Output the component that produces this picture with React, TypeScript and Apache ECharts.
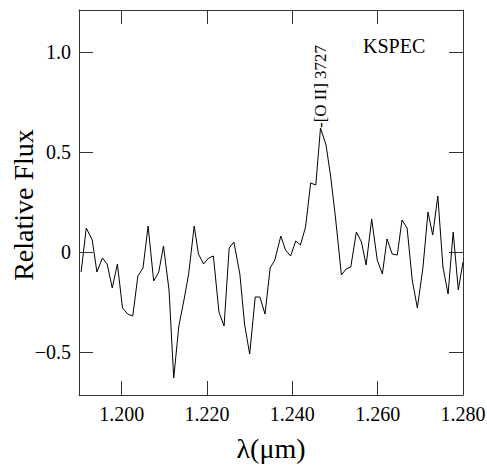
import React, { useEffect, useRef } from "react";
import * as echarts from "echarts";

const wavelength = [
  1.1905, 1.1917, 1.1931, 1.1942, 1.1955, 1.1966, 1.1978, 1.199, 1.2002, 1.2014,
  1.2026, 1.2038, 1.205, 1.2062, 1.2075, 1.2087, 1.2098, 1.2111, 1.2122, 1.2134,
  1.2146, 1.2157, 1.217, 1.218, 1.2192, 1.2204, 1.2215, 1.2228, 1.224, 1.2252,
  1.2263, 1.2277, 1.2288, 1.23, 1.2313, 1.2324, 1.2336, 1.2348, 1.2359, 1.2373,
  1.2384, 1.2396, 1.2408, 1.2419, 1.2431, 1.2443, 1.2455, 1.2466, 1.2479, 1.249,
  1.2501, 1.2515, 1.2526, 1.2537, 1.255, 1.2562, 1.2573, 1.2586, 1.2599, 1.2611,
  1.2622, 1.2634, 1.2646, 1.2657, 1.2669, 1.2681, 1.2693, 1.2706, 1.2718, 1.2729,
  1.2741, 1.2753, 1.2765, 1.2777, 1.2789, 1.28,
];

const flux = [
  -0.1, 0.12, 0.06, -0.1, -0.03, -0.06, -0.18, -0.06, -0.28, -0.31,
  -0.32, -0.12, -0.08, 0.13, -0.145, -0.1, 0.03, -0.19, -0.63, -0.37,
  -0.24, -0.11, 0.13, -0.01, -0.06, -0.03, -0.02, -0.3, -0.37, 0.02,
  0.05, -0.11, -0.36, -0.51, -0.225, -0.225, -0.31, -0.08, -0.04, 0.08,
  0.01, -0.02, 0.055, 0.035, 0.125, 0.345, 0.335, 0.62, 0.535, 0.375,
  0.175, -0.115, -0.085, -0.075, 0.1, 0.05, -0.065, 0.165, -0.04, -0.11,
  0.065, -0.01, -0.015, 0.16, 0.12, -0.14, -0.28, -0.08, 0.2, 0.085,
  0.28, -0.075, -0.21, 0.1, -0.19, -0.05,
];

const xTicks = [1.2, 1.22, 1.24, 1.26, 1.28];
const xTickLabels = ["1.200", "1.220", "1.240", "1.260", "1.280"];
const yTicks = [-0.5, 0, 0.5, 1.0];
const yTickLabels = ["\u22120.5", "0", "0.5", "1.0"];

const xName = "\u03bb(\u03bcm)";
const yName = "Relative Flux";
const lineLabel = "-[O II] 3727";
const instrument = "KSPEC";

const FONT = "'Liberation Serif', 'Times New Roman', Times, serif";
const AXIS_COLOR = "#333";

export default function App() {
  const ref = useRef<HTMLDivElement>(null);

  useEffect(() => {
    document.body.style.margin = "0";
    if (!ref.current) return;
    const chart = echarts.init(ref.current, undefined, { renderer: "svg" });

    const xFmt = (v: number) => {
      const i = xTicks.findIndex((t) => Math.abs(t - v) < 1e-6);
      return i >= 0 ? xTickLabels[i] : "";
    };
    const yFmt = (v: number) => {
      const i = yTicks.findIndex((t) => Math.abs(t - v) < 1e-6);
      return i >= 0 ? yTickLabels[i] : "";
    };

    const baseX = {
      type: "value" as const,
      min: 1.19,
      max: 1.28,
      splitLine: { show: false },
      axisLine: { show: true, onZero: false, lineStyle: { color: AXIS_COLOR, width: 1 } },
      axisTick: {
        show: true,
        inside: true,
        length: 14,
        customValues: xTicks,
        lineStyle: { color: AXIS_COLOR, width: 1 },
      },
    };
    const baseY = {
      type: "value" as const,
      min: -0.715,
      max: 1.21,
      splitLine: { show: false },
      axisLine: { show: true, onZero: false, lineStyle: { color: AXIS_COLOR, width: 1 } },
      axisTick: {
        show: true,
        inside: true,
        length: 14,
        customValues: yTicks,
        lineStyle: { color: AXIS_COLOR, width: 1 },
      },
    };

    chart.setOption({
      animation: false,
      backgroundColor: "#fff",
      grid: {
        left: 79,
        right: 24,
        top: 10,
        bottom: 73,
        containLabel: false,
        outerBoundsMode: "none",
      },
      xAxis: [
        {
          ...baseX,
          position: "bottom",
          name: xName,
          nameLocation: "middle",
          nameGap: 39,
          nameTextStyle: { fontFamily: FONT, fontSize: 28, color: "#000" },
          axisLabel: {
            show: true,
            customValues: xTicks,
            formatter: xFmt,
            margin: 9,
            fontFamily: FONT,
            fontSize: 20,
            color: "#000",
          },
        },
        {
          ...baseX,
          position: "top",
          axisLabel: { show: false },
        },
      ],
      yAxis: [
        {
          ...baseY,
          position: "left",
          axisLabel: {
            show: true,
            customValues: yTicks,
            formatter: yFmt,
            margin: 8,
            fontFamily: FONT,
            fontSize: 20,
            color: "#000",
          },
        },
        {
          ...baseY,
          position: "right",
          axisLabel: { show: false },
        },
      ],
      graphic: [
        {
          type: "text",
          x: 23,
          y: 205,
          rotation: Math.PI / 2,
          style: {
            text: yName,
            fontFamily: FONT,
            fontSize: 28,
            fill: "#000",
            textAlign: "center",
            textVerticalAlign: "middle",
          },
        },
        {
          type: "text",
          x: 363,
          y: 46,
          style: {
            text: instrument,
            fontFamily: FONT,
            fontSize: 20,
            fill: "#000",
            textAlign: "left",
            textVerticalAlign: "middle",
          },
        },
        {
          type: "text",
          x: 320,
          y: 128,
          rotation: Math.PI / 2,
          style: {
            text: lineLabel,
            fontFamily: FONT,
            fontSize: 17,
            fill: "#000",
            textAlign: "left",
            textVerticalAlign: "middle",
          },
        },
      ],
      series: [
        {
          type: "line",
          xAxisIndex: 0,
          yAxisIndex: 0,
          data: wavelength.map((w, i) => [w, flux[i]]),
          showSymbol: false,
          symbol: "none",
          lineStyle: { color: "#000", width: 1 },
          silent: true,
        },
      ],
    });

    return () => chart.dispose();
  }, []);

  return <div ref={ref} style={{ width: 487, height: 468 }} />;
}
